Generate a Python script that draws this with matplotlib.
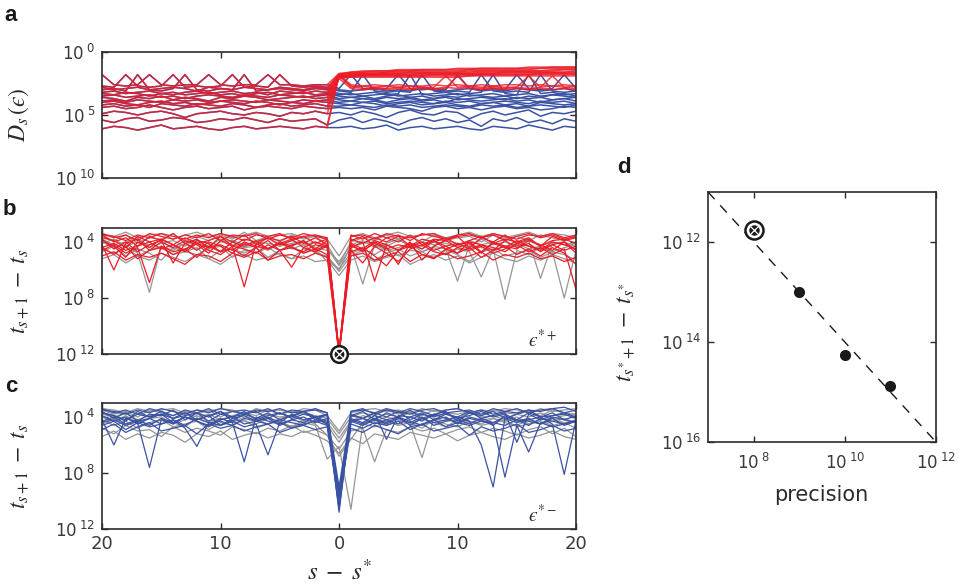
import numpy as np
import matplotlib
matplotlib.use("Agg")
import matplotlib.pyplot as plt

plt.rcParams["font.family"] = ["DejaVu Sans"]
plt.rcParams["mathtext.fontset"] = "stix"

RED = "#EC1C26"
BLUE = "#3A52A3"
GREY = "#959595"
INK = "#2B2B2B"

# steps relative to the switching step s*
STEPS = np.arange(-20, 21)

# ── panel a: log10 D_s(eps), before s* (x = -20 .. -1), shared by both branches
A_PRE = [
    [-1.8, -2.6, -2.7, -2.6, -1.8, -2.6, -2.7, -2.6, -2.6, -1.8, -2.6, -2.7, -2.6, -2.6, -1.8, -2.6, -2.6, -2.7, -2.6, -2.6],
    [-2.7, -2.8, -1.8, -2.7, -2.8, -2.7, -1.8, -2.8, -2.7, -2.8, -2.7, -1.8, -2.8, -2.7, -2.8, -1.8, -2.7, -2.8, -2.7, -2.8],
    [-3.0, -2.9, -3.1, -1.8, -3.0, -3.1, -2.9, -1.8, -3.0, -3.1, -2.9, -3.0, -1.8, -3.1, -3.0, -2.9, -3.0, -3.1, -2.9, -3.0],
    [-3.3, -3.4, -3.2, -3.3, -3.5, -3.3, -3.2, -3.4, -3.3, -3.2, -3.4, -3.3, -3.5, -3.3, -3.2, -3.4, -3.3, -3.2, -3.4, -3.3],
    [-3.6, -3.7, -3.9, -3.6, -3.7, -3.5, -3.8, -3.6, -3.7, -3.9, -3.6, -3.7, -3.5, -3.6, -3.8, -3.7, -3.6, -3.5, -3.7, -3.6],
    [-4.0, -3.9, -4.1, -4.2, -4.0, -3.9, -4.1, -4.0, -4.2, -4.1, -3.9, -4.0, -4.1, -3.9, -4.0, -4.2, -4.0, -4.1, -3.9, -4.0],
    [-4.4, -4.3, -4.5, -4.4, -4.2, -4.4, -4.6, -4.4, -4.3, -4.5, -4.4, -4.3, -4.6, -4.4, -4.3, -4.4, -4.5, -4.3, -4.4, -4.5],
    [-4.9, -4.7, -4.8, -5.0, -4.8, -4.7, -4.9, -5.2, -4.9, -4.8, -4.7, -4.9, -5.0, -4.8, -4.9, -5.1, -4.8, -4.9, -4.7, -4.9],
    [-5.4, -5.6, -5.3, -5.2, -5.5, -5.4, -5.2, -5.3, -5.6, -5.5, -5.3, -5.4, -5.2, -5.4, -5.6, -5.3, -5.5, -5.4, -5.3, -5.8],
    [-6.1, -5.9, -6.0, -6.2, -6.0, -5.8, -6.1, -6.0, -5.9, -6.1, -6.2, -6.0, -5.9, -6.1, -6.0, -5.9, -6.0, -6.1, -5.9, -6.0],
    [-2.8, -3.0, -2.9, -2.8, -3.0, -2.9, -2.8, -2.9, -3.1, -2.8, -2.9, -3.0, -2.8, -2.9, -3.0, -2.8, -2.9, -3.0, -2.8, -2.9],
    [-3.2, -3.1, -3.3, -3.2, -3.1, -3.3, -3.4, -3.2, -3.1, -3.3, -3.2, -3.1, -3.3, -3.2, -3.4, -3.1, -3.2, -3.3, -3.1, -3.2],
    [-3.5, -3.4, -3.6, -3.5, -3.4, -3.6, -3.5, -3.7, -3.5, -3.4, -3.5, -3.6, -3.4, -3.5, -3.6, -3.4, -3.5, -3.6, -3.5, -3.4],
    [-3.9, -3.8, -4.0, -3.8, -3.9, -4.0, -3.8, -3.9, -3.8, -4.0, -3.9, -3.8, -3.9, -4.0, -3.8, -3.9, -4.0, -3.8, -3.9, -3.8],
    [-4.2, -4.1, -4.3, -4.2, -4.4, -4.1, -4.2, -4.3, -4.1, -4.2, -4.3, -4.1, -4.2, -4.4, -4.2, -4.1, -4.3, -4.2, -4.1, -4.3],
]
# after s* (x = 0 .. 20), eps*+ branch
A_POST_RED = [
    [-1.7, -1.6, -1.5, -1.5, -1.5, -1.4, -1.4, -1.4, -1.4, -1.4, -1.3, -1.3, -1.3, -1.3, -1.3, -1.3, -1.2, -1.2, -1.2, -1.2, -1.2],
    [-1.8, -1.7, -1.6, -1.6, -1.6, -1.5, -1.5, -1.5, -1.5, -1.5, -1.5, -1.4, -1.4, -1.4, -1.4, -1.4, -1.4, -1.3, -1.3, -1.3, -1.3],
    [-1.8, -1.7, -1.7, -1.7, -1.6, -1.6, -1.6, -1.6, -1.6, -1.6, -1.6, -1.5, -1.5, -1.5, -1.5, -1.5, -1.5, -1.5, -1.4, -1.4, -1.4],
    [-1.9, -1.8, -1.8, -1.8, -1.7, -1.7, -1.7, -1.7, -1.7, -1.7, -1.7, -1.7, -1.6, -1.6, -1.6, -1.6, -1.6, -1.6, -1.6, -1.6, -1.5],
    [-1.9, -1.9, -1.8, -1.8, -1.8, -1.8, -1.8, -1.8, -1.8, -1.8, -1.8, -1.8, -1.7, -1.7, -1.7, -1.7, -1.7, -1.7, -1.7, -1.7, -1.7],
    [-2.0, -1.9, -1.9, -1.9, -1.9, -1.9, -1.9, -1.9, -1.9, -1.9, -1.9, -1.9, -1.8, -1.8, -1.8, -1.8, -1.8, -1.8, -1.8, -1.8, -1.8],
    [-2.0, -2.0, -2.0, -2.0, -2.0, -2.0, -2.0, -2.0, -2.0, -2.0, -2.0, -1.9, -1.9, -1.9, -1.9, -1.9, -1.9, -1.9, -1.9, -1.9, -1.9],
    [-1.8, -2.6, -2.7, -2.6, -2.7, -2.6, -2.7, -2.7, -2.6, -2.7, -2.6, -2.7, -2.6, -2.7, -2.6, -2.6, -2.7, -2.6, -2.7, -2.6, -2.7],
    [-1.8, -2.8, -2.7, -2.8, -2.7, -2.8, -2.7, -2.8, -2.8, -1.9, -2.8, -2.7, -2.8, -2.7, -2.8, -2.8, -1.9, -2.8, -2.7, -2.8, -2.7],
    [-1.9, -2.7, -2.9, -2.8, -2.9, -2.8, -2.9, -2.8, -2.9, -2.8, -2.9, -2.8, -2.9, -2.8, -2.9, -2.8, -2.9, -2.8, -1.9, -2.8, -2.9],
    [-1.8, -1.6, -1.6, -1.5, -1.5, -1.5, -1.5, -1.4, -1.4, -1.4, -1.4, -1.4, -1.3, -1.3, -1.3, -1.3, -1.3, -1.3, -1.2, -1.2, -1.2],
    [-1.9, -1.8, -1.7, -1.7, -1.7, -1.7, -1.6, -1.6, -1.6, -1.6, -1.6, -1.6, -1.5, -1.5, -1.5, -1.5, -1.5, -1.5, -1.5, -1.4, -1.4],
    [-2.0, -1.9, -1.8, -1.8, -1.8, -1.8, -1.8, -1.7, -1.7, -1.7, -1.7, -1.7, -1.7, -1.7, -1.6, -1.6, -1.6, -1.6, -1.6, -1.6, -1.6],
    [-2.1, -2.0, -1.9, -1.9, -1.9, -1.9, -1.9, -1.9, -1.8, -1.8, -1.8, -1.8, -1.8, -1.8, -1.8, -1.8, -1.8, -1.7, -1.7, -1.7, -1.7],
    [-2.1, -2.9, -3.0, -2.9, -3.0, -2.9, -3.0, -2.9, -3.0, -2.9, -1.9, -2.9, -3.0, -2.9, -3.0, -2.9, -3.0, -2.9, -3.0, -2.9, -3.0],
]
# after s* (x = 0 .. 20), eps*- branch
A_POST_BLUE = [
    [-2.9, -1.8, -2.9, -3.0, -2.9, -1.8, -2.9, -3.0, -2.9, -3.0, -1.8, -2.9, -3.0, -2.9, -3.0, -1.8, -2.9, -3.0, -2.9, -1.8, -2.9],
    [-3.1, -3.2, -1.8, -3.1, -3.2, -3.1, -3.2, -1.8, -3.1, -3.2, -3.1, -3.2, -1.8, -3.1, -3.2, -3.1, -3.2, -1.8, -3.1, -3.2, -3.1],
    [-3.3, -3.4, -3.3, -3.2, -3.4, -3.3, -1.8, -3.4, -3.3, -3.2, -3.4, -3.3, -3.2, -1.8, -3.3, -3.4, -1.8, -3.3, -3.2, -3.4, -3.3],
    [-3.5, -3.6, -3.5, -3.7, -3.5, -3.4, -3.6, -3.5, -3.7, -3.5, -3.6, -3.4, -3.5, -3.6, -3.5, -3.7, -3.5, -3.6, -3.4, -3.5, -3.6],
    [-3.8, -3.9, -3.7, -3.8, -4.0, -3.8, -3.7, -3.9, -3.8, -4.0, -3.7, -3.8, -3.9, -3.8, -3.7, -3.9, -3.8, -4.0, -3.8, -3.7, -3.9],
    [-4.1, -4.2, -4.0, -4.1, -4.3, -4.1, -4.0, -4.2, -4.1, -4.0, -4.2, -4.3, -4.1, -4.0, -4.2, -4.1, -4.3, -4.0, -4.1, -4.2, -4.1],
    [-4.4, -4.5, -4.4, -4.6, -4.3, -4.4, -4.5, -4.7, -4.4, -4.3, -4.5, -4.4, -4.6, -4.4, -4.3, -4.5, -4.4, -4.6, -4.5, -4.3, -4.4],
    [-4.8, -5.0, -4.7, -4.9, -5.2, -4.8, -4.6, -4.9, -5.0, -4.7, -4.8, -5.3, -4.9, -4.7, -5.0, -4.8, -4.6, -5.1, -4.8, -4.9, -4.7],
    [-5.4, -5.2, -5.6, -5.3, -5.5, -5.8, -5.4, -5.2, -5.5, -5.3, -5.6, -5.4, -5.9, -5.3, -5.5, -5.2, -5.6, -5.4, -5.7, -5.3, -5.5],
    [-6.0, -5.9, -6.1, -6.0, -5.8, -6.2, -6.0, -5.9, -6.1, -6.0, -5.9, -6.1, -6.2, -5.9, -6.0, -6.1, -5.8, -6.0, -6.2, -5.9, -6.0],
    [-3.0, -3.1, -3.0, -2.9, -3.1, -3.0, -3.1, -2.9, -3.0, -3.1, -3.0, -2.9, -3.1, -3.0, -3.1, -2.9, -3.0, -3.1, -3.0, -2.9, -3.1],
    [-3.4, -3.3, -3.5, -3.4, -3.3, -3.5, -3.4, -3.3, -3.5, -3.4, -3.3, -3.5, -3.4, -3.3, -3.5, -3.4, -3.3, -3.5, -3.4, -3.3, -3.5],
    [-3.7, -3.6, -3.7, -3.8, -3.6, -3.7, -3.6, -3.8, -3.7, -3.6, -3.8, -3.7, -3.6, -3.7, -3.8, -3.6, -3.7, -3.6, -3.8, -3.7, -3.6],
    [-4.0, -3.9, -4.0, -3.9, -4.1, -4.0, -3.9, -4.0, -4.1, -3.9, -4.0, -3.9, -4.1, -4.0, -3.9, -4.0, -4.1, -3.9, -4.0, -3.9, -4.1],
    [-4.3, -4.2, -4.3, -4.4, -4.2, -4.3, -4.2, -4.4, -4.3, -4.2, -4.3, -4.4, -4.2, -4.3, -4.2, -4.4, -4.3, -4.2, -4.3, -4.4, -4.2],
]

# ── panel b: log10 (t_{s+1} - t_s), x = -20 .. 20, eps*+ branch and other trajectories
B_RED = [
    [-3.5, -4.0, -3.7, -4.3, -3.6, -3.9, -3.4, -4.1, -3.8, -4.4, -3.6, -4.0, -3.5, -4.2, -3.7, -3.9, -3.6, -4.1, -3.7, -4.2, -12.0,
     -3.9, -3.6, -4.3, -3.7, -4.0, -3.5, -4.2, -3.8, -3.9, -3.6, -4.4, -3.7, -4.0, -3.5, -4.1, -3.8, -4.3, -3.6, -3.9, -3.7],
    [-4.2, -6.0, -4.1, -3.8, -4.6, -4.0, -4.4, -3.9, -4.2, -4.8, -3.9, -4.3, -7.2, -4.1, -4.5, -4.0, -4.3, -3.9, -4.6, -4.2, -11.9,
     -4.4, -4.0, -6.8, -4.2, -4.6, -4.1, -4.3, -3.9, -4.5, -4.2, -4.0, -4.7, -4.1, -4.4, -3.9, -4.3, -4.6, -4.0, -4.2, -4.5],
    [-4.6, -4.2, -4.8, -4.4, -6.9, -4.3, -4.7, -4.5, -4.1, -4.6, -4.9, -4.3, -4.5, -4.8, -4.2, -4.6, -5.8, -4.4, -4.7, -4.3, -12.0,
     -4.6, -5.5, -4.3, -4.8, -5.4, -4.5, -4.2, -4.7, -4.9, -4.4, -4.6, -4.3, -4.8, -4.5, -4.2, -4.7, -4.4, -4.9, -4.5, -7.4],
    [-3.8, -4.5, -4.0, -4.7, -4.2, -3.9, -5.5, -4.1, -4.6, -4.0, -4.3, -4.8, -4.1, -4.4, -3.9, -4.6, -4.2, -4.0, -4.5, -3.9, -11.8,
     -4.2, -4.7, -4.0, -4.4, -5.6, -4.1, -4.5, -3.9, -4.3, -4.8, -4.0, -4.2, -4.6, -3.9, -4.4, -4.1, -4.7, -4.2, -4.0, -4.6],
    [-5.0, -4.7, -5.3, -4.9, -5.1, -4.8, -5.2, -5.6, -4.9, -5.0, -5.4, -4.8, -5.1, -4.7, -5.3, -5.0, -4.9, -5.2, -4.8, -5.1, -12.0,
     -5.0, -4.8, -5.3, -5.0, -4.7, -5.4, -4.9, -5.1, -4.8, -5.2, -5.0, -4.7, -5.3, -4.9, -5.1, -4.8, -5.2, -5.0, -5.4, -5.1],
    [-3.4, -3.7, -3.5, -3.9, -3.4, -3.6, -3.8, -3.5, -3.7, -3.4, -3.9, -3.5, -3.6, -3.4, -3.8, -3.5, -3.7, -3.4, -3.6, -3.8, -11.9,
     -3.5, -3.8, -3.4, -3.7, -3.5, -3.9, -3.4, -3.6, -3.8, -3.5, -3.4, -3.7, -3.5, -3.9, -3.6, -3.4, -3.7, -3.5, -3.8, -3.6],
    [-4.4, -4.9, -4.3, -5.2, -4.6, -4.4, -4.9, -4.5, -5.1, -4.3, -4.7, -4.5, -5.0, -4.4, -5.3, -4.6, -4.4, -4.8, -4.5, -4.9, -12.0,
     -4.7, -4.4, -5.0, -5.7, -4.6, -4.3, -4.9, -5.2, -4.5, -4.8, -4.4, -5.1, -4.6, -4.3, -4.9, -4.5, -5.0, -4.4, -4.8, -5.6],
    [-3.9, -4.3, -5.1, -4.0, -4.4, -3.8, -4.2, -4.6, -3.9, -4.1, -4.7, -4.0, -4.3, -3.9, -4.5, -4.1, -3.8, -4.4, -4.0, -4.3, -11.9,
     -4.1, -4.5, -3.9, -4.2, -4.6, -4.0, -5.3, -4.3, -3.9, -4.4, -4.1, -4.8, -4.0, -4.3, -4.5, -3.9, -4.2, -4.6, -4.0, -4.8],
    [-3.7, -3.9, -4.4, -3.6, -4.0, -3.8, -4.2, -3.7, -4.1, -3.9, -3.6, -4.3, -3.8, -4.0, -3.7, -4.2, -3.9, -3.6, -4.1, -3.8, -12.0,
     -3.8, -4.1, -3.7, -4.0, -3.6, -4.3, -3.8, -4.0, -3.7, -4.2, -3.9, -3.6, -4.1, -3.8, -4.0, -3.7, -4.3, -3.9, -3.8, -4.1],
    [-4.4, -4.1, -4.6, -4.3, -4.0, -4.5, -4.2, -4.7, -4.1, -4.4, -4.2, -4.6, -4.0, -4.3, -4.5, -4.1, -4.4, -4.7, -4.2, -4.4, -11.9,
     -4.3, -4.6, -4.1, -4.5, -4.2, -4.4, -4.0, -4.6, -4.3, -4.1, -4.5, -4.2, -4.4, -4.7, -4.1, -4.3, -4.5, -4.2, -4.6, -4.3],
    [-3.5, -3.6, -3.9, -3.5, -3.7, -3.4, -3.6, -3.8, -3.5, -3.7, -3.4, -3.6, -3.9, -3.5, -3.6, -3.4, -3.8, -3.6, -3.5, -3.7, -11.8,
     -3.6, -3.5, -3.8, -3.4, -3.6, -3.7, -3.5, -3.4, -3.8, -3.6, -3.5, -3.7, -3.4, -3.6, -3.8, -3.5, -3.6, -3.4, -3.7, -3.5],
]
B_GREY = [
    [-3.6, -3.9, -3.5, -4.1, -3.7, -3.8, -3.4, -4.0, -3.6, -3.9, -3.5, -3.8, -3.3, -3.9, -3.6, -4.0, -3.5, -3.8, -3.6, -4.2, -5.6,
     -4.0, -3.7, -3.9, -3.5, -3.8, -3.6, -4.0, -3.5, -3.9, -3.7, -3.6, -4.0, -3.5, -3.8, -3.6, -3.9, -3.5, -3.7, -3.9, -3.6],
    [-4.0, -4.4, -4.2, -4.8, -7.6, -4.3, -4.6, -4.1, -4.5, -4.2, -4.7, -4.0, -4.4, -4.3, -4.6, -4.1, -4.5, -4.2, -4.8, -5.0, -6.0,
     -4.3, -7.0, -4.2, -4.6, -4.4, -4.1, -4.7, -4.3, -4.5, -6.8, -4.2, -4.4, -4.6, -4.3, -4.1, -4.5, -4.3, -4.7, -4.4, -4.2],
    [-4.5, -4.8, -4.4, -5.0, -4.6, -4.3, -4.9, -4.7, -4.4, -5.2, -4.6, -4.5, -4.8, -4.4, -5.1, -4.6, -4.3, -4.8, -4.5, -5.4, -5.9,
     -4.8, -4.5, -4.9, -4.4, -5.0, -4.6, -4.7, -4.4, -4.9, -4.5, -4.7, -6.5, -4.5, -8.1, -4.6, -4.9, -4.4, -4.7, -8.0, -4.6],
    [-3.8, -4.2, -4.0, -3.7, -4.4, -4.1, -3.9, -4.3, -3.8, -4.5, -4.0, -3.9, -4.2, -4.0, -3.7, -4.3, -4.1, -3.9, -4.4, -4.6, -5.4,
     -4.2, -3.9, -4.4, -4.1, -3.8, -4.3, -4.0, -4.2, -3.9, -4.1, -4.4, -3.8, -4.2, -4.0, -4.3, -3.9, -6.6, -4.1, -4.0, -4.3],
    [-3.4, -3.6, -3.3, -3.7, -3.5, -3.4, -3.8, -3.5, -3.3, -3.6, -3.4, -3.7, -3.5, -3.3, -3.6, -3.5, -3.4, -3.7, -3.5, -3.8, -5.0,
     -3.6, -3.4, -3.7, -3.5, -3.3, -3.6, -3.5, -3.4, -3.7, -3.5, -3.3, -3.6, -3.4, -3.7, -3.5, -3.3, -3.6, -3.4, -3.5, -3.7],
    [-4.7, -4.3, -5.0, -4.5, -4.8, -5.3, -4.4, -4.7, -4.9, -4.5, -4.3, -5.1, -4.6, -4.8, -4.4, -4.9, -5.2, -4.5, -4.7, -5.1, -6.1,
     -5.0, -4.6, -5.3, -4.8, -4.5, -5.0, -4.7, -5.2, -4.6, -4.9, -5.4, -4.7, -4.5, -5.0, -4.8, -4.6, -5.1, -4.7, -4.9, -5.3],
    [-4.1, -3.8, -4.3, -4.0, -4.2, -3.9, -4.5, -4.1, -4.0, -4.3, -3.8, -4.2, -4.4, -4.0, -4.1, -4.3, -3.9, -4.2, -4.0, -4.4, -5.7,
     -4.4, -4.1, -4.0, -4.3, -3.9, -4.2, -4.5, -4.0, -4.1, -4.3, -3.9, -4.2, -4.0, -4.4, -4.1, -3.9, -4.3, -4.0, -4.2, -4.1],
    [-5.2, -4.9, -5.5, -5.0, -5.3, -4.8, -5.1, -5.4, -4.9, -5.2, -5.6, -5.0, -4.9, -5.3, -5.1, -4.8, -5.2, -5.0, -5.4, -5.3, -6.4,
     -5.3, -5.0, -5.4, -5.1, -4.9, -5.6, -5.2, -4.9, -5.3, -5.0, -5.5, -5.1, -4.8, -5.2, -5.4, -5.0, -5.3, -4.9, -5.2, -5.5],
]

# ── panel c: same quantity, eps*- branch and other trajectories
C_BLUE = [
    [-3.6, -4.1, -3.7, -4.3, -3.8, -3.9, -3.5, -4.2, -3.7, -4.0, -3.6, -4.3, -3.8, -3.6, -4.1, -3.7, -4.0, -3.6, -4.2, -3.8, -10.8,
     -3.9, -3.6, -4.2, -3.7, -4.0, -3.5, -4.1, -3.8, -3.6, -4.3, -3.7, -3.9, -3.6, -4.1, -3.8, -3.5, -4.0, -3.7, -4.2, -3.9],
    [-4.2, -6.0, -4.1, -4.4, -7.6, -4.2, -4.5, -4.0, -4.3, -4.6, -4.1, -4.4, -7.2, -4.0, -4.3, -4.5, -4.2, -4.0, -4.4, -4.1, -10.2,
     -4.3, -4.1, -4.5, -4.2, -4.0, -4.6, -4.1, -4.4, -4.2, -4.0, -4.3, -6.0, -9.0, -4.1, -4.4, -4.2, -4.0, -4.5, -8.1, -4.2],
    [-4.6, -4.3, -4.9, -4.4, -4.7, -4.5, -4.2, -4.8, -6.1, -4.4, -4.6, -4.3, -4.7, -4.5, -6.7, -4.4, -4.8, -4.5, -4.3, -4.6, -9.6,
     -4.5, -4.8, -4.4, -4.6, -4.3, -4.9, -4.5, -4.2, -4.7, -4.4, -4.6, -4.3, -4.5, -8.3, -4.6, -6.5, -4.4, -4.7, -4.5, -4.3],
    [-3.9, -4.3, -4.0, -4.5, -4.1, -3.8, -4.4, -4.0, -4.2, -3.9, -4.6, -4.1, -3.9, -4.3, -4.0, -4.4, -3.8, -4.2, -4.0, -4.3, -9.2,
     -4.1, -4.4, -3.9, -4.2, -4.5, -4.0, -4.3, -3.8, -4.1, -4.4, -4.0, -4.2, -4.6, -3.9, -4.3, -4.1, -4.5, -4.0, -4.2, -4.4],
    [-3.4, -3.7, -3.5, -3.8, -3.4, -3.6, -3.9, -3.5, -3.7, -3.4, -3.8, -3.6, -3.5, -3.7, -3.4, -3.8, -3.5, -3.6, -3.4, -3.7, -9.0,
     -3.6, -3.4, -3.8, -3.5, -3.7, -3.4, -3.6, -3.9, -3.5, -3.4, -3.7, -3.5, -3.8, -3.6, -3.4, -3.7, -3.5, -3.4, -3.3, -3.6],
    [-4.9, -4.5, -5.1, -4.7, -4.4, -5.0, -4.8, -4.6, -5.2, -4.5, -4.8, -4.6, -5.0, -4.7, -4.5, -5.1, -4.8, -4.6, -4.9, -4.7, -9.9,
     -4.8, -5.1, -4.6, -4.9, -5.2, -4.7, -4.5, -5.0, -4.8, -4.6, -5.3, -4.7, -5.0, -4.8, -4.5, -5.1, -4.9, -4.6, -5.0, -4.8],
    [-4.3, -4.0, -4.5, -4.2, -4.6, -4.1, -4.4, -4.0, -4.3, -4.7, -4.2, -4.0, -4.5, -4.3, -4.1, -4.6, -4.2, -4.4, -4.0, -4.5, -10.5,
     -4.2, -4.5, -4.1, -4.4, -4.0, -4.3, -4.6, -4.2, -4.0, -4.5, -4.1, -4.3, -4.4, -4.0, -4.2, -4.6, -4.1, -4.3, -4.5, -4.2],
    [-3.7, -3.9, -4.2, -3.8, -4.0, -3.6, -4.1, -3.9, -3.7, -4.3, -3.8, -4.0, -3.6, -4.2, -3.9, -3.7, -4.1, -3.8, -4.0, -3.9, -9.4,
     -3.8, -4.1, -3.7, -5.6, -3.9, -4.0, -3.7, -4.2, -3.8, -4.0, -3.6, -4.1, -3.9, -3.7, -5.8, -3.8, -4.2, -3.9, -3.7, -4.0],
    [-3.7, -3.9, -4.3, -3.6, -4.0, -3.8, -4.1, -3.7, -4.2, -3.9, -3.6, -4.0, -3.8, -4.1, -3.7, -4.2, -3.9, -3.6, -4.0, -3.8, -9.5,
     -3.9, -4.1, -3.7, -4.0, -3.6, -4.2, -3.8, -4.0, -3.7, -4.1, -3.9, -3.6, -4.0, -3.8, -4.2, -3.7, -4.0, -3.9, -3.8, -4.1],
    [-4.4, -4.2, -4.6, -4.3, -4.1, -4.5, -4.2, -4.6, -4.1, -4.4, -4.3, -4.6, -4.1, -4.3, -4.5, -4.2, -4.4, -4.6, -4.2, -4.4, -10.0,
     -4.3, -4.6, -4.2, -4.5, -4.1, -4.4, -4.0, -4.6, -4.3, -4.2, -4.5, -4.1, -4.4, -4.6, -4.2, -4.3, -4.5, -4.1, -4.6, -4.3],
    [-3.5, -3.6, -3.8, -3.5, -3.7, -3.4, -3.6, -3.8, -3.5, -3.7, -3.4, -3.6, -3.8, -3.5, -3.6, -3.4, -3.7, -3.6, -3.5, -3.7, -10.6,
     -3.6, -3.5, -3.7, -3.4, -3.6, -3.8, -3.5, -3.4, -3.7, -3.6, -3.5, -3.8, -3.4, -3.6, -3.7, -3.5, -3.6, -3.4, -3.7, -3.5],
]
C_GREY = [
    [-3.5, -3.8, -3.6, -4.0, -3.5, -3.7, -3.9, -3.6, -3.8, -3.5, -4.0, -3.6, -3.7, -3.9, -3.5, -3.8, -3.6, -3.7, -3.9, -4.1, -5.2,
     -4.0, -3.7, -3.9, -3.5, -3.8, -3.6, -3.9, -3.5, -3.7, -3.8, -3.6, -3.9, -3.5, -3.7, -3.8, -3.6, -3.9, -3.5, -3.7, -3.8],
    [-4.2, -4.6, -4.3, -4.8, -4.4, -4.2, -4.7, -4.5, -4.3, -4.9, -4.4, -4.6, -4.2, -4.8, -4.5, -4.3, -4.7, -4.4, -4.6, -7.0, -6.1,
     -10.6, -4.5, -4.7, -4.3, -4.6, -4.4, -4.8, -4.2, -4.5, -4.7, -4.3, -4.6, -4.4, -4.2, -4.7, -4.5, -4.3, -4.6, -4.4, -4.8],
    [-4.8, -5.2, -4.6, -5.0, -4.9, -5.4, -4.7, -5.1, -4.8, -5.0, -5.3, -4.7, -4.9, -5.2, -4.8, -5.0, -4.6, -5.1, -4.9, -5.3, -6.3,
     -5.0, -4.8, -7.2, -4.9, -5.1, -4.7, -5.0, -4.8, -5.2, -4.9, -4.7, -5.1, -4.8, -5.0, -5.3, -4.9, -4.7, -5.2, -4.8, -5.4],
    [-4.0, -4.3, -3.9, -4.4, -4.1, -4.0, -4.5, -4.2, -3.9, -4.3, -4.1, -4.4, -4.0, -4.2, -4.5, -4.1, -3.9, -4.3, -4.0, -4.6, -5.8,
     -4.4, -4.1, -4.3, -4.0, -4.2, -4.5, -6.9, -4.1, -4.3, -4.0, -4.4, -4.2, -4.1, -4.3, -4.0, -4.5, -4.2, -4.1, -4.4, -4.3],
    [-3.4, -3.5, -3.7, -3.4, -3.6, -3.5, -3.4, -3.7, -3.5, -3.6, -3.4, -3.5, -3.8, -3.4, -3.6, -3.5, -3.7, -3.4, -3.5, -3.9, -5.0,
     -3.7, -3.5, -3.4, -3.6, -3.5, -3.7, -3.4, -3.6, -3.5, -3.4, -3.7, -3.5, -3.6, -3.4, -3.5, -3.7, -3.4, -3.6, -3.5, -3.4],
    [-5.4, -5.0, -5.6, -5.2, -5.5, -5.1, -5.3, -5.8, -5.2, -5.4, -5.0, -5.6, -5.3, -5.1, -5.5, -5.2, -5.4, -5.0, -5.3, -5.7, -6.6,
     -5.5, -5.9, -5.2, -5.4, -5.6, -5.1, -5.3, -5.5, -5.2, -5.7, -5.3, -5.1, -5.4, -5.6, -5.2, -5.5, -5.3, -5.0, -5.4, -5.6],
    [-4.4, -4.1, -4.6, -4.3, -4.5, -4.2, -4.4, -4.7, -4.1, -4.4, -4.6, -4.2, -4.3, -4.5, -4.1, -4.4, -4.7, -4.2, -4.5, -5.3, -6.8,
     -5.6, -4.4, -4.2, -4.6, -4.3, -4.5, -4.1, -4.4, -4.7, -4.2, -4.3, -4.5, -4.1, -4.4, -4.6, -4.2, -4.5, -4.3, -4.1, -4.4],
    [-3.8, -4.0, -3.7, -4.2, -3.9, -3.8, -4.1, -3.7, -4.0, -3.8, -4.2, -3.9, -3.7, -4.1, -3.8, -4.0, -3.9, -3.7, -4.1, -4.4, -5.5,
     -4.3, -3.9, -4.1, -3.8, -4.0, -3.7, -4.2, -3.9, -3.8, -4.1, -3.7, -4.0, -3.9, -4.2, -3.8, -4.0, -3.7, -4.1, -3.9, -3.8],
]

# ── panel d: gap at s* against integration precision
PRECISION = [1e-8, 1e-9, 1e-10, 1e-11]
GAP = [1.7e-12, 1.0e-13, 5.5e-15, 1.3e-15]
REF_X = [1e-7, 1e-12]
REF_Y = [1e-11, 1e-16]


def pow_label(e):
    return r"$\mathregular{10^{\,\,%d}}$" % e


def style(ax):
    ax.minorticks_off()
    ax.tick_params(which="both", direction="in", top=True, right=True,
                   length=4, width=1, colors=INK, labelsize=12, pad=5)
    ax.tick_params(labelcolor="#3a3a3a")
    for sp in ax.spines.values():
        sp.set_linewidth(1.2)
        sp.set_color(INK)


def target(ax, x, y, ms=12):
    kw = dict(clip_on=False, linestyle="none")
    ax.plot(x, y, "o", ms=ms, mfc="white", mec="#1a1a1a", mew=1.8, zorder=10, **kw)
    ax.plot(x, y, "o", ms=ms * 0.5, mfc="#1a1a1a", mec="#1a1a1a", zorder=11, **kw)
    ax.plot(x, y, "x", ms=ms * 0.45, mec="white", mew=0.9, zorder=12, **kw)


fig = plt.figure(figsize=(9.59, 5.88), dpi=100)
ax_a = fig.add_axes([0.1064, 0.6973, 0.4943, 0.2143])
ax_b = fig.add_axes([0.1064, 0.3980, 0.4943, 0.2143])
ax_c = fig.add_axes([0.1064, 0.1003, 0.4943, 0.2143])
ax_d = fig.add_axes([0.7383, 0.2483, 0.2377, 0.4252])

# panel a (red drawn a little translucent over the blue, as in the print)
for pre, post in zip(A_PRE, A_POST_BLUE):
    ax_a.plot(STEPS, 10.0 ** np.array(pre + post), color=BLUE, lw=1.1)
for pre, post in zip(A_PRE, A_POST_RED):
    ax_a.plot(STEPS, 10.0 ** np.array(pre + post), color=RED, lw=1.1, alpha=0.82)
ax_a.set_yscale("log")
ax_a.set_ylim(1e-10, 1)
ax_a.set_yticks([1, 1e-5, 1e-10], [pow_label(0), pow_label(5), pow_label(10)])

# panel b
for row in B_GREY:
    ax_b.plot(STEPS, 10.0 ** np.array(row), color=GREY, lw=0.9)
for row in B_RED:
    ax_b.plot(STEPS, 10.0 ** np.array(row), color=RED, lw=0.9)
target(ax_b, 0, 1e-12)
ax_b.text(0.93, 0.11, "$\u03f5^{*+}$", transform=ax_b.transAxes,
          ha="center", va="center", fontsize=14, color=INK)

# panel c
for row in C_GREY:
    ax_c.plot(STEPS, 10.0 ** np.array(row), color=GREY, lw=0.9)
for row in C_BLUE:
    ax_c.plot(STEPS, 10.0 ** np.array(row), color=BLUE, lw=0.9)
ax_c.text(0.93, 0.11, "$\u03f5^{*{\\rm -}}$", transform=ax_c.transAxes,
          ha="center", va="center", fontsize=14, color=INK)

for ax in (ax_b, ax_c):
    ax.set_yscale("log")
    ax.set_ylim(1e-12, 1e-3)
    ax.set_yticks([1e-4, 1e-8, 1e-12], [pow_label(4), pow_label(8), pow_label(12)])
    ax.set_ylabel(r"$t_{s+1}\;-\;t_s$", fontsize=17, color=INK)
    ax.yaxis.set_label_coords(-0.15, 0.5)

for ax in (ax_a, ax_b, ax_c):
    ax.set_xlim(-20, 20)
    ax.set_xticks([-20, -10, 0, 10, 20])
    style(ax)
ax_a.tick_params(labelbottom=False)
ax_b.tick_params(labelbottom=False)
ax_c.set_xticklabels(["20", "10", "0", "10", "20"])
ax_c.tick_params(axis="x", labelsize=13, pad=4)
ax_a.set_ylabel("$D_s\\,(\u03f5)$", fontsize=17, color=INK)
ax_a.yaxis.set_label_coords(-0.15, 0.5)

# panel d
ax_d.plot(REF_X, REF_Y, color="#1a1a1a", lw=1.0, dashes=(7, 6))
ax_d.plot(PRECISION, GAP, "o", color="#1a1a1a", ms=7, zorder=5)
target(ax_d, PRECISION[0], GAP[0], ms=13)
ax_d.set_xscale("log")
ax_d.set_yscale("log")
ax_d.set_xlim(1e-7, 1e-12)
ax_d.set_ylim(1e-16, 1e-11)
ax_d.set_xticks([1e-8, 1e-10, 1e-12], [pow_label(8), pow_label(10), pow_label(12)])
ax_d.set_yticks([1e-12, 1e-14, 1e-16], [pow_label(12), pow_label(14), pow_label(16)])
style(ax_d)
ax_d.tick_params(axis="x", pad=8)
ax_d.set_ylabel(r"$t_{s^{*}+1}\;-\;t_{s^{*}}$", fontsize=17, color=INK)
ax_d.yaxis.set_label_coords(-0.31, 0.44)

fig.text(0.354, 0.027, r"$s\;-\;s^{*}$", ha="center", va="center", fontsize=18, color=INK)
fig.text(0.856, 0.158, "precision", ha="center", va="center", fontsize=15, color=INK)

for lab, x, y in [("a", 0.005, 0.964), ("b", 0.003, 0.634), ("c", 0.005, 0.333), ("d", 0.643, 0.706)]:
    fig.text(x, y, lab, fontsize=16, fontweight="bold", family="Liberation Sans",
             va="baseline", color="#1a1a1a")

fig.savefig("out.png", dpi=100, facecolor="white")
